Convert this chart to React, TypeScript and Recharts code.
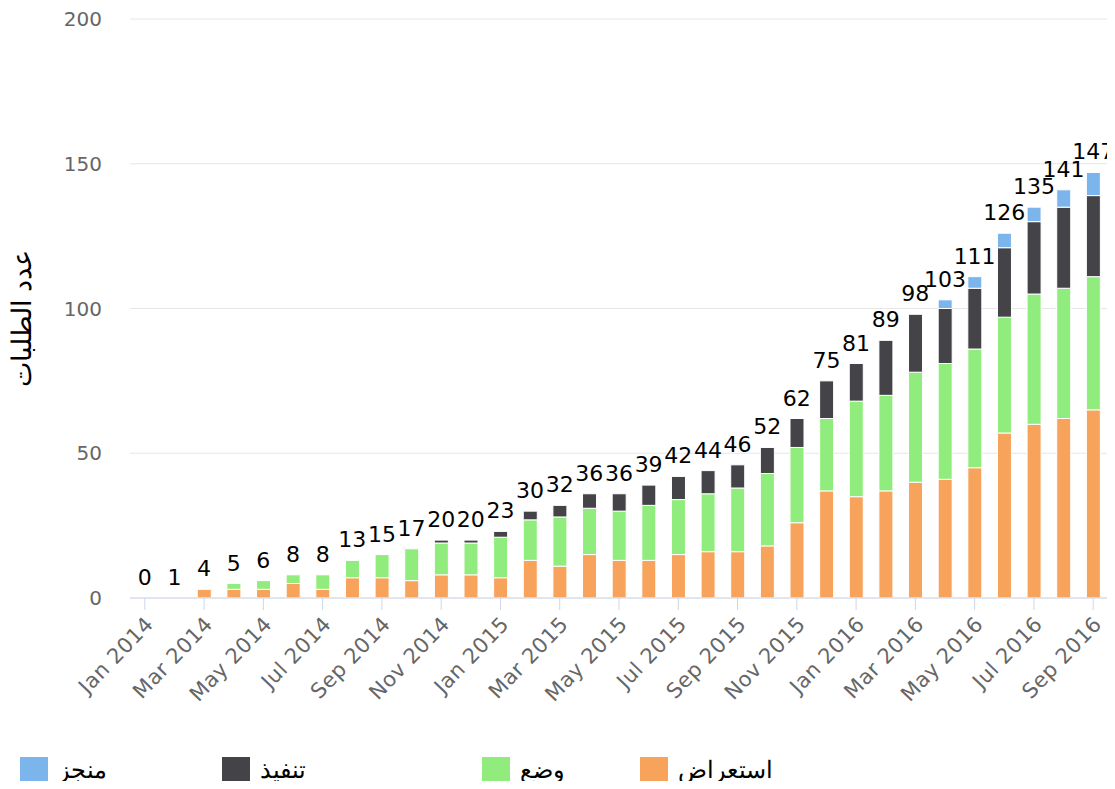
import React from 'react';
import { ComposedChart, Bar, Line, XAxis, YAxis, CartesianGrid, LabelList } from 'recharts';

const months = [
  'Jan 2014', 'Feb 2014', 'Mar 2014', 'Apr 2014', 'May 2014', 'Jun 2014', 'Jul 2014', 'Aug 2014', 'Sep 2014', 'Oct 2014', 'Nov 2014', 'Dec 2014',
  'Jan 2015', 'Feb 2015', 'Mar 2015', 'Apr 2015', 'May 2015', 'Jun 2015', 'Jul 2015', 'Aug 2015', 'Sep 2015', 'Oct 2015', 'Nov 2015', 'Dec 2015',
  'Jan 2016', 'Feb 2016', 'Mar 2016', 'Apr 2016', 'May 2016', 'Jun 2016', 'Jul 2016', 'Aug 2016', 'Sep 2016',
];

// استعراض
const review = [0, 0, 3, 3, 3, 5, 3, 7, 7, 6, 8, 8, 7, 13, 11, 15, 13, 13, 15, 16, 16, 18, 26, 37, 35, 37, 40, 41, 45, 57, 60, 62, 65];
// وضع
const setup = [0, 0, 0, 2, 3, 3, 5, 6, 8, 11, 11, 11, 14, 14, 17, 16, 17, 19, 19, 20, 22, 25, 26, 25, 33, 33, 38, 40, 41, 40, 45, 45, 46];
// تنفيذ
const execute = [0, 0, 0, 0, 0, 0, 0, 0, 0, 0, 1, 1, 2, 3, 4, 5, 6, 7, 8, 8, 8, 9, 10, 13, 13, 19, 20, 19, 21, 24, 25, 28, 28];
// منجز
const done = [0, 0, 0, 0, 0, 0, 0, 0, 0, 0, 0, 0, 0, 0, 0, 0, 0, 0, 0, 0, 0, 0, 0, 0, 0, 0, 0, 3, 4, 5, 5, 6, 8];
// stack labels as printed on the chart
const totals = [0, 1, 4, 5, 6, 8, 8, 13, 15, 17, 20, 20, 23, 30, 32, 36, 36, 39, 42, 44, 46, 52, 62, 75, 81, 89, 98, 103, 111, 126, 135, 141, 147];

const yTicks = [0, 50, 100, 150, 200];

const series = [
  { key: 'review', name: 'استعراض', color: '#f7a35c' },
  { key: 'setup', name: 'وضع', color: '#90ed7d' },
  { key: 'execute', name: 'تنفيذ', color: '#434348' },
  { key: 'done', name: 'منجز', color: '#7cb5ec' },
];

const data = months.map((m, i) => ({
  month: m,
  review: review[i],
  setup: setup[i],
  execute: execute[i],
  done: done[i],
  stackTop: review[i] + setup[i] + execute[i] + done[i],
  total: totals[i],
}));

const FONT = '"DejaVu Sans", Verdana, sans-serif';

const MonthTick = ({ x, y, payload }: any) => (
  <g transform={`translate(${x - 1},${y + 1})`}>
    <text x={0} y={0} dy="0.71em" textAnchor="end" transform="rotate(-46)" fill="#666" fontSize={21} letterSpacing={0.5} fontFamily={FONT}>
      {payload.value}
    </text>
  </g>
);

export default function App() {
  const legendOrder = [...series].reverse();
  return (
    <div style={{ margin: -8, width: 1115, height: 789, background: '#fff', position: 'relative' }}>
      <ComposedChart width={1115} height={730} data={data} margin={{ top: 19, right: 7, left: 0, bottom: 0 }} barSize={14}>
        <CartesianGrid vertical={false} stroke="#e6e6e6" />
        <XAxis
          dataKey="month"
          interval={1}
          height={132}
          tick={<MonthTick />}
          tickSize={12}
          tickMargin={4}
          axisLine={{ stroke: '#ccd6eb' }}
          tickLine={{ stroke: '#ccd6eb' }}
        />
        <YAxis
          width={130}
          domain={[0, 200]}
          ticks={yTicks}
          axisLine={false}
          tickLine={false}
          tickMargin={22}
          tick={{ fill: '#666', fontSize: 20, fontFamily: FONT }}
          label={{ value: 'عدد الطلبات', angle: -90, position: 'center', dx: -44, dy: 10, fill: '#000', fontSize: 27, fontFamily: 'serif' }}
        />
        {series.map((s) => (
          <Bar key={s.key} dataKey={s.key} stackId="a" fill={s.color} stroke="#fff" strokeWidth={1} isAnimationActive={false} />
        ))}
        <Line dataKey="stackTop" stroke="none" dot={false} activeDot={false} legendType="none" isAnimationActive={false}>
          <LabelList dataKey="total" position="top" offset={13} fill="#000" fontSize={22} fontFamily={FONT} />
        </Line>
      </ComposedChart>
      <div style={{ position: 'absolute', top: 756, left: 0, width: 1115, height: 28 }}>
        {legendOrder.map((s, i) => (
          <div
            key={s.key}
            style={{ position: 'absolute', left: [20, 222, 482, 640][i], top: 0, display: 'flex', alignItems: 'center', height: 28 }}
          >
            <span style={{ display: 'inline-block', width: 28, height: 26, background: s.color }} />
            <span dir="rtl" style={{ marginLeft: 10, fontSize: 24, fontFamily: 'serif', color: '#000' }}>{s.name}</span>
          </div>
        ))}
      </div>
    </div>
  );
}
